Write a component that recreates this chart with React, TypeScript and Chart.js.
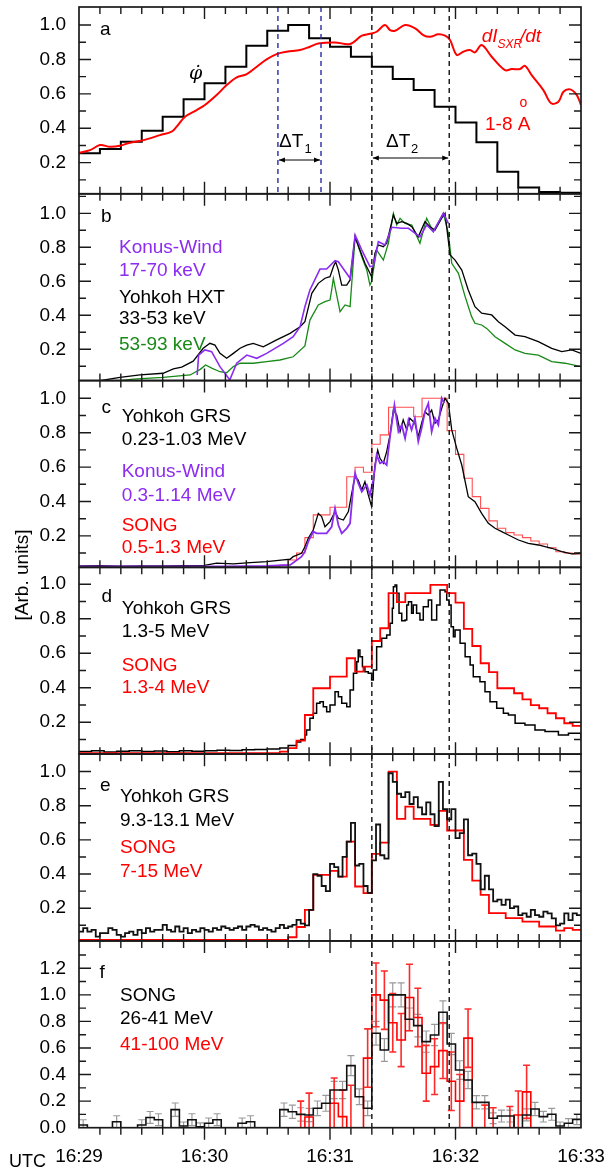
import React, { useEffect, useRef } from "react";
import { Chart, registerables } from "chart.js";
Chart.register(...registerables);

const FONT = '"Liberation Sans", Arial, Helvetica, sans-serif';
const PURPLE = "#8b2cf0";
const GREEN = "#178a17";
const RED = "#ff0000";
const LIGHTRED = "#ff5050";
const BLUE = "#2a2aa8";

// time axis: seconds after 16:29:00
const timeTickValues = [0, 60, 120, 180, 240];
const timeTickLabels = ["16:29", "16:30", "16:31", "16:32", "16:33"];
const markerTimes = [140, 177];
const deltaT1Times = [95.1, 115.7];

// panel a
const phiDotBins = [0.254, 0.279, 0.322, 0.386, 0.467, 0.568, 0.661, 0.758, 0.88, 0.967, 1.0, 0.923, 0.874, 0.816, 0.758, 0.686, 0.622, 0.525, 0.434, 0.318, 0.147, 0.056, 0.03, 0.025];
const sxrT = [0, 5.3, 10, 14.8, 19.6, 24.4, 29.2, 33.9, 38.7, 44.3, 46.7, 50.7, 56.3, 60.2, 65.8, 70.6, 75.4, 80.2, 85.0, 89.7, 94.5, 99.3, 105.7, 110.4, 114.4, 122.4, 129.6, 135.2, 139.9, 142.3, 146.3, 148.7, 151.1, 155.9, 160.7, 164.6, 167.8, 171.8, 175.0, 177.4, 180.6, 183.7, 186.9, 189.3, 192.5, 197.3, 203.7, 206.9, 210.8, 213.2, 216.4, 222.0, 225.7, 229.2, 231.6, 234.8, 238.0, 240];
const sxrV = [0.258, 0.273, 0.302, 0.292, 0.298, 0.316, 0.326, 0.341, 0.36, 0.38, 0.409, 0.467, 0.506, 0.535, 0.593, 0.651, 0.696, 0.715, 0.758, 0.801, 0.831, 0.845, 0.855, 0.874, 0.893, 0.899, 0.89, 0.938, 0.951, 0.961, 1.0, 0.971, 0.967, 1.0, 0.981, 0.942, 0.932, 0.946, 0.938, 0.913, 0.826, 0.845, 0.855, 0.841, 0.884, 0.816, 0.738, 0.744, 0.744, 0.763, 0.709, 0.622, 0.545, 0.554, 0.612, 0.626, 0.593, 0.535];

// panel b
const hxtT = [0, 10, 19.6, 29.2, 40.2, 45.1, 49.1, 54.6, 59.4, 62.6, 65.0, 67.4, 70.6, 73.8, 77.0, 80.2, 83.3, 88.1, 94.5, 100.9, 105.7, 108.0, 111.3, 114.4, 117.6, 120.0, 121.6, 122.7, 124.0, 125.6, 128.0, 129.6, 132.0, 134.3, 136.7, 139.1, 139.9, 141.5, 143.1, 145.5, 147.1, 150.3, 151.9, 154.3, 156.7, 159.1, 162.2, 165.4, 167.8, 170.2, 173.4, 175.0, 177.4, 179.8, 183.0, 186.1, 189.3, 192.5, 197.3, 200.5, 203.7, 208.5, 213.2, 219.6, 226.0, 230.8, 235.6, 240];
const hxtV = [0.015, 0.015, 0.035, 0.049, 0.059, 0.085, 0.095, 0.13, 0.206, 0.235, 0.225, 0.176, 0.147, 0.176, 0.206, 0.225, 0.235, 0.215, 0.255, 0.294, 0.333, 0.362, 0.529, 0.588, 0.618, 0.627, 0.686, 0.715, 0.666, 0.578, 0.578, 0.608, 0.862, 0.784, 0.706, 0.647, 0.627, 0.765, 0.814, 0.804, 0.824, 0.99, 0.941, 0.951, 0.941, 0.921, 0.862, 0.951, 0.921, 0.902, 0.971, 1.0, 0.755, 0.725, 0.666, 0.549, 0.451, 0.412, 0.402, 0.362, 0.333, 0.284, 0.274, 0.245, 0.206, 0.186, 0.196, 0.176];
const hxtHighT = [0, 20, 25.8, 40.2, 53.1, 58.0, 60.5, 63.7, 67.4, 70.6, 73.8, 77.0, 83.3, 89.7, 96.1, 102.4, 108.0, 110.4, 114.4, 117.6, 120.0, 120.8, 121.6, 123.2, 124.8, 127.2, 129.6, 132.0, 135.2, 137.6, 139.1, 139.9, 142.3, 145.5, 147.9, 150.3, 151.9, 153.5, 155.9, 159.1, 163.0, 166.2, 169.4, 174.2, 176.6, 178.2, 181.4, 184.6, 187.7, 189.3, 192.5, 194.9, 198.9, 203.7, 208.5, 213.2, 219.6, 226.0, 232.4, 240];
const hxtHighV = [0.012, 0.015, 0.024, 0.035, 0.049, 0.082, 0.108, 0.088, 0.068, 0.062, 0.098, 0.118, 0.118, 0.127, 0.137, 0.156, 0.22, 0.372, 0.461, 0.48, 0.49, 0.549, 0.618, 0.519, 0.421, 0.461, 0.451, 0.862, 0.745, 0.666, 0.578, 0.598, 0.784, 0.725, 0.824, 1.0, 0.931, 0.971, 0.941, 0.931, 0.824, 0.971, 0.892, 1.0, 0.882, 0.706, 0.647, 0.51, 0.392, 0.353, 0.343, 0.323, 0.274, 0.235, 0.196, 0.176, 0.166, 0.127, 0.118, 0.098];
const konusBT = [56.5, 57.2, 60.2, 63.4, 67.4, 72.1, 75.4, 80.2, 85.0, 89.7, 97.7, 102.4, 105.7, 108.0, 110.4, 115.2, 118.4, 122.4, 124.0, 129.6, 132.0, 135.2, 139.1, 140.7, 143.1, 146.3, 149.5, 154.3, 157.5, 163.0, 166.2, 169.4, 174.2, 176.6];
const konusBV = [0.049, 0.166, 0.196, 0.186, 0.098, 0.02, 0.118, 0.166, 0.147, 0.176, 0.235, 0.274, 0.333, 0.45, 0.549, 0.672, 0.672, 0.721, 0.715, 0.618, 0.872, 0.784, 0.686, 0.69, 0.833, 0.814, 0.918, 0.912, 0.912, 0.862, 0.931, 0.892, 1.0, 0.941];

// panel c
const grsCT = [0, 10, 20, 30, 40, 50, 60, 65.8, 73.8, 81.8, 89.7, 97.7, 100.9, 102.4, 106.4, 108.0, 109.6, 112.0, 114.4, 116.0, 117.6, 120.0, 122.4, 124.0, 126.4, 128.8, 130.4, 132.0, 133.5, 135.2, 136.7, 138.3, 139.9, 141.5, 142.8, 143.9, 145.5, 147.1, 148.7, 150.3, 151.9, 153.5, 155.0, 156.7, 158.2, 160.6, 162.2, 163.8, 165.4, 167.0, 168.6, 170.2, 171.8, 173.4, 175.0, 176.6, 178.2, 180.6, 183.0, 186.1, 189.3, 192.5, 195.7, 198.9, 202.1, 205.3, 210.1, 214.8, 219.6, 226.0, 230.8, 235.6, 240];
const grsCV = [0.025, 0.027, 0.024, 0.026, 0.025, 0.027, 0.028, 0.041, 0.037, 0.044, 0.05, 0.06, 0.064, 0.079, 0.099, 0.137, 0.186, 0.234, 0.331, 0.312, 0.253, 0.283, 0.341, 0.302, 0.292, 0.341, 0.448, 0.544, 0.525, 0.467, 0.515, 0.438, 0.37, 0.612, 0.699, 0.651, 0.622, 0.69, 0.787, 0.932, 0.903, 0.806, 0.874, 0.816, 0.884, 0.855, 0.777, 0.855, 0.922, 0.903, 0.932, 0.855, 0.874, 0.942, 1.0, 0.971, 0.816, 0.709, 0.612, 0.428, 0.399, 0.331, 0.273, 0.244, 0.225, 0.205, 0.176, 0.157, 0.147, 0.128, 0.108, 0.095, 0.099];
const konusCT = [0, 10, 20, 30, 40, 50, 60, 70, 80, 90, 101, 106.4, 108.0, 109.6, 112.0, 113.6, 116.0, 118.4, 120.8, 122.4, 124.0, 125.6, 128.0, 129.6, 131.2, 132.0, 133.5, 135.2, 137.6, 139.1, 140.7, 142.3, 143.9, 145.5, 147.1, 148.7, 150.8, 152.7, 154.3, 155.9, 157.5, 159.0, 160.6, 162.2, 163.8, 165.4, 167.0, 168.6, 170.2, 171.8, 173.4, 174.6];
const konusCV = [0.022, 0.022, 0.023, 0.022, 0.022, 0.023, 0.022, 0.023, 0.024, 0.025, 0.031, 0.079, 0.108, 0.166, 0.225, 0.215, 0.215, 0.215, 0.253, 0.36, 0.263, 0.215, 0.244, 0.273, 0.496, 0.564, 0.506, 0.457, 0.496, 0.438, 0.525, 0.67, 0.622, 0.632, 0.612, 0.777, 0.961, 0.806, 0.845, 0.767, 0.874, 0.816, 0.884, 0.748, 0.826, 0.922, 0.971, 0.806, 0.884, 0.845, 1.0, 0.971];
const songCBins = [0.02, 0.02, 0.02, 0.02, 0.02, 0.02, 0.02, 0.02, 0.02, 0.02, 0.02, 0.02, 0.02, 0.02, 0.02, 0.02, 0.02, 0.02, 0.02, 0.02, 0.02, 0.02, 0.02, 0.02, 0.03, 0.06, 0.1, 0.19, 0.322, 0.322, 0.366, 0.366, 0.544, 0.599, 0.57, 0.733, 0.787, 0.948, 0.948, 0.948, 0.893, 1.0, 1.0, 1.0, 0.812, 0.674, 0.535, 0.428, 0.36, 0.287, 0.244, 0.219, 0.205, 0.19, 0.17, 0.153, 0.131, 0.108, 0.1, 0.095];

// panel d
const grsDT = [0, 6, 12, 18, 24, 30, 36, 42, 48, 54, 60, 66, 72, 78, 84, 90, 96, 100, 104, 106, 108.0, 108.8, 110.4, 112.0, 113.6, 115.2, 116.8, 118.4, 120.0, 122.4, 124.0, 125.6, 128.0, 129.6, 131.2, 132.8, 133.5, 134.3, 135.5, 136.7, 138.3, 139.9, 140.7, 142.3, 144.7, 147.1, 148.7, 149.8, 150.3, 151.1, 151.9, 153.0, 154.3, 155.9, 156.7, 157.5, 159.0, 159.8, 161.4, 163.0, 164.6, 167.0, 168.6, 171.0, 172.6, 174.2, 175.0, 175.8, 176.9, 177.9, 179.0, 179.8, 181.4, 182.2, 184.6, 187.0, 188.5, 191.7, 194.1, 196.5, 199.7, 202.9, 205.3, 208.5, 213.2, 218.0, 222.8, 229.2, 234.0, 240];
const grsDV = [0.03, 0.034, 0.028, 0.031, 0.035, 0.03, 0.033, 0.029, 0.034, 0.031, 0.035, 0.037, 0.036, 0.04, 0.042, 0.045, 0.05, 0.065, 0.085, 0.1, 0.126, 0.155, 0.223, 0.252, 0.31, 0.319, 0.29, 0.261, 0.3, 0.377, 0.348, 0.31, 0.29, 0.387, 0.484, 0.551, 0.619, 0.58, 0.522, 0.493, 0.484, 0.445, 0.503, 0.638, 0.687, 0.706, 0.774, 0.861, 0.986, 0.996, 0.948, 0.832, 0.789, 0.793, 0.88, 0.899, 0.832, 0.88, 0.832, 0.793, 0.87, 0.909, 0.793, 0.88, 0.967, 0.967, 0.957, 0.909, 0.88, 0.754, 0.696, 0.735, 0.735, 0.658, 0.58, 0.532, 0.464, 0.435, 0.377, 0.319, 0.281, 0.252, 0.242, 0.194, 0.184, 0.155, 0.146, 0.126, 0.136, 0.107];
const songDBins = [0.02, 0.02, 0.02, 0.02, 0.02, 0.02, 0.02, 0.02, 0.02, 0.02, 0.02, 0.02, 0.02, 0.02, 0.02, 0.02, 0.02, 0.02, 0.02, 0.02, 0.02, 0.02, 0.02, 0.02, 0.03, 0.05, 0.093, 0.242, 0.397, 0.397, 0.464, 0.464, 0.571, 0.493, 0.522, 0.671, 0.745, 0.948, 0.896, 0.948, 0.948, 0.948, 0.996, 0.996, 0.948, 0.893, 0.741, 0.642, 0.542, 0.49, 0.397, 0.397, 0.368, 0.333, 0.299, 0.281, 0.252, 0.223, 0.194, 0.179];

// panel e (Yohkoh 2-s bins, SONG 4-s bins)
const grsEBins = [0.063, 0.083, 0.063, 0.073, 0.034, 0.054, 0.054, 0.083, 0.073, 0.044, 0.034, 0.054, 0.063, 0.044, 0.073, 0.054, 0.083, 0.063, 0.073, 0.073, 0.102, 0.073, 0.063, 0.093, 0.063, 0.083, 0.054, 0.073, 0.063, 0.083, 0.073, 0.063, 0.083, 0.073, 0.093, 0.083, 0.073, 0.083, 0.093, 0.073, 0.093, 0.102, 0.093, 0.073, 0.083, 0.073, 0.063, 0.083, 0.102, 0.083, 0.093, 0.102, 0.132, 0.11, 0.1, 0.19, 0.4, 0.39, 0.33, 0.3, 0.46, 0.44, 0.385, 0.5, 0.59, 0.7, 0.45, 0.46, 0.33, 0.29, 0.48, 0.69, 0.51, 0.49, 0.99, 0.94, 0.87, 0.85, 0.88, 0.81, 0.85, 0.79, 0.75, 0.82, 0.75, 0.68, 0.94, 0.78, 0.72, 0.78, 0.61, 0.64, 0.72, 0.51, 0.52, 0.46, 0.31, 0.39, 0.31, 0.24, 0.25, 0.22, 0.25, 0.2, 0.21, 0.16, 0.17, 0.15, 0.19, 0.16, 0.15, 0.18, 0.17, 0.14, 0.1, 0.11, 0.17, 0.13, 0.17, 0.16];
const songEBins = [0.015, 0.015, 0.015, 0.015, 0.015, 0.015, 0.015, 0.015, 0.015, 0.015, 0.015, 0.015, 0.015, 0.015, 0.015, 0.015, 0.015, 0.015, 0.015, 0.015, 0.015, 0.015, 0.015, 0.015, 0.015, 0.03, 0.09, 0.19, 0.395, 0.395, 0.419, 0.385, 0.59, 0.327, 0.288, 0.518, 0.584, 1.0, 0.723, 0.795, 0.723, 0.723, 0.688, 0.77, 0.655, 0.655, 0.483, 0.362, 0.278, 0.171, 0.171, 0.142, 0.142, 0.122, 0.122, 0.093, 0.093, 0.069, 0.083, 0.073];

// panel f (SONG 4-s bins with errors)
const song26Bins = [0.02, 0, 0, 0, 0.045, 0, 0, 0.02, 0.077, 0.06, 0, 0.136, 0.013, 0.06, 0.006, 0.033, 0.06, 0, 0, 0.033, 0.045, 0, 0, 0, 0.136, 0.12, 0.1, 0.096, 0.146, 0.184, 0.284, 0.284, 0.467, 0.233, 0.146, 0.711, 0.585, 1.0, 1.0, 0.816, 0.768, 0.648, 0.698, 0.869, 0.63, 0.434, 0.359, 0.191, 0.191, 0.071, 0.088, 0.088, 0, 0.096, 0.141, 0.083, 0.101, 0.013, 0.033, 0.063];
const song26Err = [0.04, 0, 0, 0, 0.045, 0, 0, 0.04, 0.045, 0.045, 0, 0.05, 0.03, 0.045, 0.03, 0.04, 0.045, 0, 0, 0.04, 0.045, 0, 0, 0, 0.05, 0.05, 0.05, 0.05, 0.055, 0.06, 0.065, 0.065, 0.075, 0.06, 0.055, 0.09, 0.085, 0.09, 0.09, 0.085, 0.085, 0.08, 0.08, 0.085, 0.08, 0.07, 0.065, 0.05, 0.05, 0.04, 0.045, 0.045, 0, 0.045, 0.05, 0.04, 0.045, 0.03, 0.035, 0.04];
const song41Bins = [0, 0, 0, 0, 0, 0, 0, 0, 0, 0, 0, 0, 0, 0, 0, 0, 0, 0, 0, 0, 0, 0, 0, 0, 0, 0, 0, 0.08, 0, 0, 0.184, 0.083, 0, 0, 0.524, 1.0, 0.96, 0.79, 0.66, 0.98, 0.83, 0.41, 0.46, 0.58, 0.35, 0.2, 0.674, 0, 0, 0, 0, 0, 0.096, 0.27, 0, 0, 0, 0, 0, 0];
const song41Err = [0, 0, 0, 0, 0, 0, 0, 0, 0, 0, 0, 0, 0, 0, 0, 0, 0, 0, 0, 0, 0, 0, 0, 0, 0, 0, 0.2, 0.18, 0, 0, 0.19, 0.2, 0.32, 0, 0.22, 0.24, 0.22, 0.22, 0.2, 0.25, 0.22, 0.21, 0.21, 0.21, 0.22, 0.2, 0.22, 0, 0.17, 0.15, 0, 0.16, 0.18, 0.2, 0, 0, 0, 0, 0, 0];

const panels = [
  { id: "ya", min: 0.019, max: 1.105, labels: [0.2, 0.4, 0.6, 0.8, 1.0] },
  { id: "yb", min: 0.016, max: 1.115, labels: [0.2, 0.4, 0.6, 0.8, 1.0] },
  { id: "yc", min: 0.017, max: 1.103, labels: [0.2, 0.4, 0.6, 0.8, 1.0] },
  { id: "yd", min: 0.015, max: 1.098, labels: [0.2, 0.4, 0.6, 0.8, 1.0] },
  { id: "ye", min: 0.0085, max: 1.102, labels: [0.2, 0.4, 0.6, 0.8, 1.0] },
  { id: "yf", min: 0, max: 1.406, labels: [0, 0.2, 0.4, 0.6, 0.8, 1.0, 1.2] },
];

const annotations = [
  { t: "a", x: 100, y: 35 },
  { t: "b", x: 101, y: 221.7 },
  { t: "c", x: 101.5, y: 413.3 },
  { t: "d", x: 101.5, y: 601.7 },
  { t: "e", x: 100, y: 790.7 },
  { t: "f", x: 99.5, y: 977.7 },
  { t: "Konus-Wind", x: 119, y: 253.3, c: PURPLE },
  { t: "17-70 keV", x: 119, y: 276, c: PURPLE },
  { t: "Yohkoh HXT", x: 119, y: 302.7 },
  { t: "33-53 keV", x: 119, y: 324 },
  { t: "53-93 keV", x: 119, y: 350, c: GREEN },
  { t: "Yohkoh GRS", x: 121.7, y: 422.3 },
  { t: "0.23-1.03 MeV", x: 121.7, y: 445 },
  { t: "Konus-Wind", x: 121.7, y: 477.3, c: PURPLE },
  { t: "0.3-1.14 MeV", x: 121.7, y: 501, c: PURPLE },
  { t: "SONG", x: 121.7, y: 530.7, c: RED },
  { t: "0.5-1.3 MeV", x: 121.7, y: 553.3, c: RED },
  { t: "Yohkoh GRS", x: 121.7, y: 614 },
  { t: "1.3-5 MeV", x: 121.7, y: 636.7 },
  { t: "SONG", x: 121.7, y: 670.7, c: RED },
  { t: "1.3-4 MeV", x: 121.7, y: 693.3, c: RED },
  { t: "Yohkoh GRS", x: 120, y: 802.3 },
  { t: "9.3-13.1 MeV", x: 120, y: 825.7 },
  { t: "SONG", x: 120, y: 853.3, c: RED },
  { t: "7-15 MeV", x: 120, y: 876.7, c: RED },
  { t: "SONG", x: 120, y: 1000.7 },
  { t: "26-41 MeV", x: 120, y: 1024.3 },
  { t: "41-100 MeV", x: 120, y: 1050, c: RED },
];

function pairs(t: number[], v: number[]) {
  return t.map((x, i) => ({ x, y: v[i] }));
}
function binsToPoints(bins: number[], width: number) {
  const pts = bins.map((v, i) => ({ x: i * width, y: v }));
  pts.push({ x: bins.length * width, y: bins[bins.length - 1] });
  return pts;
}

function text(ctx: CanvasRenderingContext2D, s: string, x: number, y: number, color = "#000", font = `19px ${FONT}`, align: CanvasTextAlign = "left") {
  ctx.save();
  ctx.font = font;
  ctx.fillStyle = color;
  ctx.textAlign = align;
  ctx.textBaseline = "alphabetic";
  ctx.fillText(s, x, y);
  ctx.restore();
}

function arrowHead(ctx: CanvasRenderingContext2D, x: number, y: number, dir: number) {
  ctx.beginPath();
  ctx.moveTo(x, y);
  ctx.lineTo(x - dir * 6, y - 2.5);
  ctx.lineTo(x - dir * 6, y + 2.5);
  ctx.closePath();
  ctx.fill();
}

const decorPlugin = {
  id: "decor",
  beforeDatasetDraw(chart: any, args: any) {
    const s = args.meta.yScale;
    const a = chart.chartArea;
    const ctx = chart.ctx;
    ctx.save();
    ctx.beginPath();
    ctx.rect(a.left, s.top, a.right - a.left, s.bottom - s.top);
    ctx.clip();
  },
  afterDatasetDraw(chart: any) {
    chart.ctx.restore();
  },
  beforeDatasetsDraw(chart: any) {
    const ctx = chart.ctx;
    const xs = chart.scales.x;
    const ys = chart.scales.yf;
    const draw = (vals: number[], errs: number[], color: string, w: number) => {
      ctx.save();
      ctx.strokeStyle = color;
      ctx.lineWidth = w;
      vals.forEach((v, i) => {
        const e = errs[i];
        if (!e) return;
        const cx = xs.getPixelForValue(i * 4 + 2);
        const lo = Math.max(v - e, 0);
        const y1 = ys.getPixelForValue(lo);
        const y2 = ys.getPixelForValue(v + e);
        ctx.beginPath();
        ctx.moveTo(cx, y1);
        ctx.lineTo(cx, y2);
        ctx.moveTo(cx - 3.5, y2);
        ctx.lineTo(cx + 3.5, y2);
        if (lo > 0) {
          ctx.moveTo(cx - 3.5, y1);
          ctx.lineTo(cx + 3.5, y1);
        }
        ctx.stroke();
      });
      ctx.restore();
    };
    draw(song26Bins, song26Err, "#9a9a9a", 1.2);
    draw(song41Bins, song41Err, "#ff2a2a", 1.6);
  },
  afterDatasetsDraw(chart: any) {
    const ctx = chart.ctx;
    const a = chart.chartArea;
    const xs = chart.scales.x;
    ctx.save();
    // dashed markers
    ctx.setLineDash([5, 4]);
    ctx.lineWidth = 1.4;
    ctx.strokeStyle = "#111";
    markerTimes.forEach((t) => {
      const px = xs.getPixelForValue(t);
      ctx.beginPath();
      ctx.moveTo(px, a.top);
      ctx.lineTo(px, a.bottom);
      ctx.stroke();
    });
    const ya = chart.scales.ya;
    ctx.strokeStyle = BLUE;
    deltaT1Times.forEach((t) => {
      const px = xs.getPixelForValue(t);
      ctx.beginPath();
      ctx.moveTo(px, ya.top);
      ctx.lineTo(px, ya.bottom);
      ctx.stroke();
    });
    ctx.setLineDash([]);
    // frames and ticks
    ctx.strokeStyle = "#1a1a1a";
    panels.forEach((p, pi) => {
      const s = chart.scales[p.id];
      const last = pi === panels.length - 1;
      ctx.lineWidth = 1.4;
      for (let k = 0; k <= 14; k++) {
        const v = k / 10;
        if (v < s.min - 1e-9 || v > s.max + 1e-9) continue;
        const py = s.getPixelForValue(v);
        if (py > s.bottom - 1 || py < s.top + 1) continue;
        const len = k % 2 === 0 ? 12 : 7;
        ctx.beginPath();
        ctx.moveTo(a.left, py);
        ctx.lineTo(a.left + len, py);
        ctx.moveTo(a.right, py);
        ctx.lineTo(a.right - len, py);
        ctx.stroke();
      }
      for (let t = 10; t < 240; t += 10) {
        const px = xs.getPixelForValue(t);
        const len = t % 60 === 0 ? 12 : 7;
        ctx.beginPath();
        ctx.moveTo(px, s.top);
        ctx.lineTo(px, s.top + len);
        if (last) {
          ctx.moveTo(px, s.bottom);
          ctx.lineTo(px, s.bottom + len);
        } else {
          ctx.moveTo(px, s.bottom);
          ctx.lineTo(px, s.bottom - len);
        }
        ctx.stroke();
      }
      ctx.lineWidth = 1.7;
      ctx.strokeRect(a.left, s.top, a.right - a.left, s.bottom - s.top);
    });
    ctx.restore();
  },
  afterDraw(chart: any) {
    const ctx = chart.ctx;
    annotations.forEach((n: any) => text(ctx, n.t, n.x, n.y, n.c || "#000"));
    // panel a labels
    text(ctx, "\u03C6\u0307", 189, 79, "#000", `italic 19px "DejaVu Serif", serif`);
    text(ctx, "dI", 481.7, 41.7, RED, `italic 19px ${FONT}`);
    text(ctx, "SXR", 497.5, 48.3, RED, `italic 12px ${FONT}`);
    text(ctx, "/dt", 520, 41.7, RED, `italic 19px ${FONT}`);
    text(ctx, "1-8 A", 485, 130, RED);
    text(ctx, "o", 519.5, 107, RED, `14px ${FONT}`);
    text(ctx, "\u0394T", 279, 146.7);
    text(ctx, "1", 304.5, 152.5, "#000", `13px ${FONT}`);
    text(ctx, "\u0394T", 386, 146.7);
    text(ctx, "2", 411, 152.5, "#000", `13px ${FONT}`);
    const xs = chart.scales.x;
    ctx.save();
    ctx.strokeStyle = "#000";
    ctx.fillStyle = "#000";
    ctx.lineWidth = 1;
    const arrows = [
      { t0: deltaT1Times[0], t1: deltaT1Times[1], y: 160 },
      { t0: markerTimes[0], t1: markerTimes[1], y: 158 },
    ];
    arrows.forEach((ar) => {
      const x0 = xs.getPixelForValue(ar.t0) + 1;
      const x1 = xs.getPixelForValue(ar.t1) - 1;
      ctx.beginPath();
      ctx.moveTo(x0, ar.y);
      ctx.lineTo(x1, ar.y);
      ctx.stroke();
      arrowHead(ctx, x0, ar.y, -1);
      arrowHead(ctx, x1, ar.y, 1);
    });
    ctx.restore();
    // axis title and UTC
    ctx.save();
    ctx.translate(22.5, 575);
    ctx.rotate(-Math.PI / 2);
    ctx.font = `19px ${FONT}`;
    ctx.fillStyle = "#000";
    ctx.textAlign = "center";
    ctx.textBaseline = "middle";
    ctx.fillText("[Arb. units]", 0, 0);
    ctx.restore();
    text(ctx, "UTC", 9, 1166.7, "#000", `18px ${FONT}`);
  },
};

function buildScales() {
  const scales: any = {
    x: {
      type: "linear",
      position: "bottom",
      min: 0,
      max: 240,
      grid: { display: false, drawTicks: false },
      border: { display: false },
      afterBuildTicks: (s: any) => {
        s.ticks = timeTickValues.map((v) => ({ value: v }));
      },
      afterFit: (s: any) => {
        s.height = 41.3;
        s.paddingLeft = 0;
        s.paddingRight = 0;
      },
      ticks: {
        autoSkip: false,
        maxRotation: 0,
        padding: 17.6,
        color: "#000",
        font: { family: FONT, size: 19 },
        callback: (_v: any, i: number) => timeTickLabels[i],
      },
    },
  };
  const n = panels.length;
  for (let i = n - 1; i >= 0; i--) {
    const p = panels[i];
    scales[p.id] = {
      type: "linear",
      position: "left",
      stack: "panels",
      stackWeight: 1,
      weight: n - i,
      min: p.min,
      max: p.max,
      grid: { display: false, drawTicks: false },
      border: { display: false },
      afterBuildTicks: (s: any) => {
        s.ticks = p.labels.map((v) => ({ value: v }));
      },
      afterFit: (s: any) => {
        s.width = 79;
        s.paddingTop = 0;
        s.paddingBottom = 0;
      },
      ticks: {
        autoSkip: false,
        padding: 13,
        color: "#000",
        font: { family: FONT, size: 19 },
        callback: (v: any) => Number(v).toFixed(1),
      },
    };
  }
  return scales;
}

export default function App() {
  const ref = useRef<HTMLCanvasElement>(null);
  useEffect(() => {
    const line = (data: any, yAxisID: string, color: string, width: number, extra: any = {}) => ({
      data,
      yAxisID,
      borderColor: color,
      backgroundColor: color,
      borderWidth: width,
      pointRadius: 0,
      fill: false,
      ...extra,
    });
    const chart = new Chart(ref.current as HTMLCanvasElement, {
      type: "line",
      data: {
        datasets: [
          line(pairs(sxrT, sxrV), "ya", RED, 2, { tension: 0.35 }),
          line(binsToPoints(phiDotBins, 10), "ya", "#000", 2, { stepped: true }),
          line(pairs(konusBT, konusBV), "yb", PURPLE, 1.6),
          line(pairs(hxtT, hxtV), "yb", "#000", 1.3),
          line(pairs(hxtHighT, hxtHighV), "yb", GREEN, 1.3),
          line(pairs(konusCT, konusCV), "yc", PURPLE, 1.8),
          line(pairs(grsCT, grsCV), "yc", "#000", 1.3),
          line(binsToPoints(songCBins, 4), "yc", LIGHTRED, 1.1, { stepped: true }),
          line(binsToPoints(songDBins, 4), "yd", RED, 1.8, { stepped: true }),
          line(pairs(grsDT, grsDV), "yd", "#000", 1.5, { stepped: true }),
          line(binsToPoints(grsEBins, 2), "ye", "#111", 1.8, { stepped: true }),
          line(binsToPoints(songEBins, 4), "ye", RED, 1.8, { stepped: true }),
          line(binsToPoints(song26Bins, 4), "yf", "#111", 1.6, { stepped: true }),
          line(binsToPoints(song41Bins, 4), "yf", RED, 1.6, { stepped: true }),
        ],
      },
      options: {
        responsive: false,
        animation: false,
        parsing: true,
        layout: { padding: { top: 7, right: 29, bottom: 0, left: 0 } },
        plugins: { legend: { display: false }, tooltip: { enabled: false } },
        scales: buildScales(),
      },
      plugins: [decorPlugin],
    } as any);
    return () => chart.destroy();
  }, []);
  return (
    <div style={{ position: "absolute", left: 0, top: 0, width: 610, height: 1169, background: "#fff" }}>
      <canvas ref={ref} width={610} height={1169} style={{ display: "block", width: 610, height: 1169 }} />
    </div>
  );
}
